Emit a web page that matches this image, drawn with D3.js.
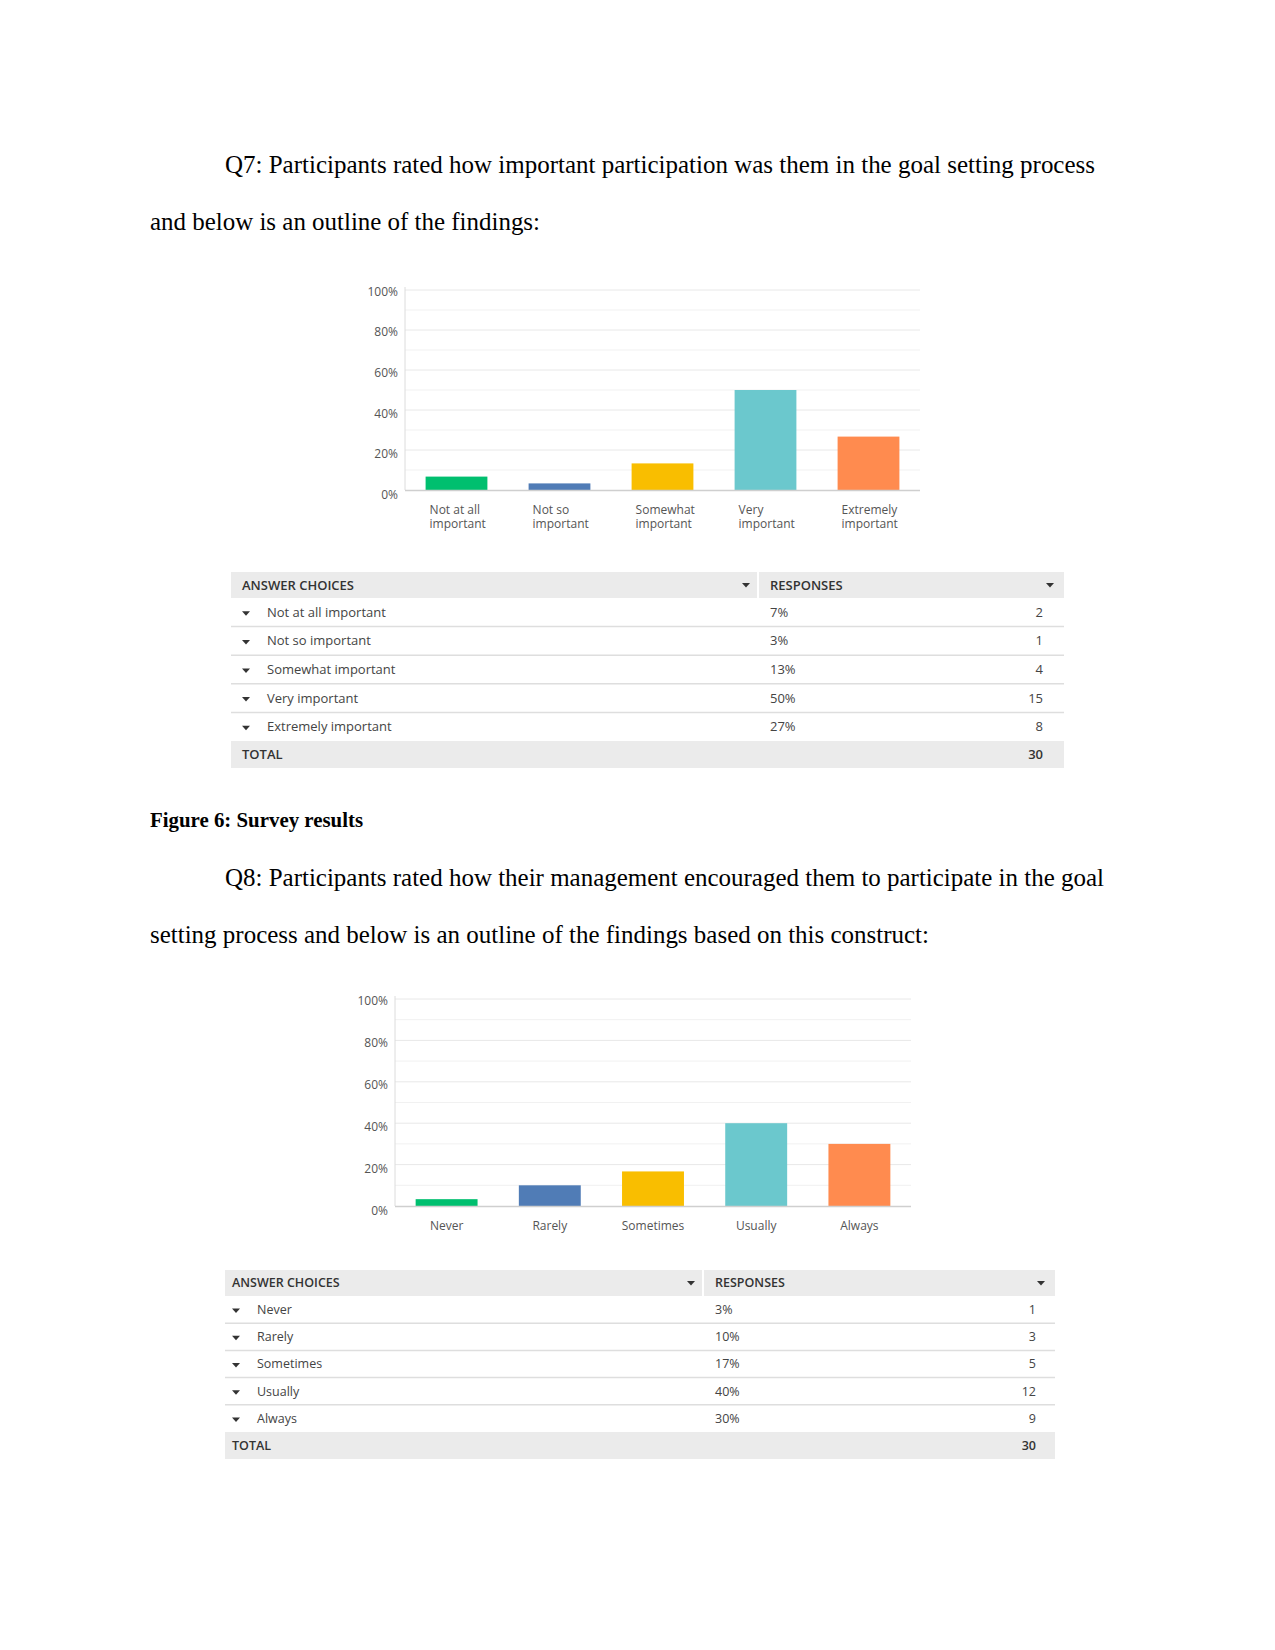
<!DOCTYPE html>
<html>
<head>
<meta charset="utf-8">
<script src="https://cdn.jsdelivr.net/npm/d3@7"></script>
<style>
  body { margin: 0; background: #fff; }
</style>
</head>
<body>
<div id="page"></div>
<script>
// --- data ---
var q7Choices = ["Not at all important", "Not so important", "Somewhat important", "Very important", "Extremely important"];
var q7AxisLabels = [["Not at all", "important"], ["Not so", "important"], ["Somewhat", "important"], ["Very", "important"], ["Extremely", "important"]];
var q7Percents = [7, 3, 13, 50, 27];          // as printed in the table
var q7BarHeights = [6.7, 3.3, 13.3, 50, 26.7]; // as measured off the bars
var q7Counts = [2, 1, 4, 15, 8];
var q7Total = 30;

var q8Choices = ["Never", "Rarely", "Sometimes", "Usually", "Always"];
var q8AxisLabels = [["Never"], ["Rarely"], ["Sometimes"], ["Usually"], ["Always"]];
var q8Percents = [3, 10, 17, 40, 30];
var q8BarHeights = [3.3, 10, 16.7, 40, 30];
var q8Counts = [1, 3, 5, 12, 9];
var q8Total = 30;

var barColors = ["#00bf6f", "#507cb6", "#f9be00", "#6bc8cd", "#ff8b4f"];
var yTicks = [0, 20, 40, 60, 80, 100];
var headerLabels = ["ANSWER CHOICES", "RESPONSES"];

var q7Text = ["Q7: Participants rated how important participation was them in the goal setting process",
              "and below is an outline of the findings:"];
var captionText = "Figure 6: Survey results";
var q8Text = ["Q8: Participants rated how their management encouraged them to participate in the goal",
              "setting process and below is an outline of the findings based on this construct:"];

var W = 1275, H = 1650;
var sans = "'Open Sans', 'Noto Sans', sans-serif";
var serif = "'Liberation Serif', 'Times New Roman', serif";

var svg = d3.select("#page")
	.append("svg")
	.attr("width", W)
	.attr("height", H)
	.style("background-color", "#fff");

// body text lines (widths stretched to the reference line lengths)
function bodyLine(txt, x, y, len, bold){
	svg.append("text")
		.attr("x", x)
		.attr("y", y)
		.attr("textLength", len)
		.attr("lengthAdjust", "spacingAndGlyphs")
		.style("font-family", serif)
		.style("font-size", bold ? "21px" : "25px")
		.style("font-weight", bold ? "bold" : "normal")
		.attr("fill", "#000")
		.text(txt);
}

bodyLine(q7Text[0], 225, 173, 870);
bodyLine(q7Text[1], 150, 230, 390);
bodyLine(captionText, 150, 827, 213, true);
bodyLine(q8Text[0], 225, 886, 879);
bodyLine(q8Text[1], 150, 943, 779);

function drawChart(opt){
	var g = svg.append("g");
	var x = d3.scaleBand()
		.domain(d3.range(opt.values.length))
		.range([opt.left, opt.right])
		.paddingInner(0.4)
		.paddingOuter(0.2);
	var y = d3.scaleLinear()
		.domain([0, 100])
		.range([opt.base, opt.top]);
	// tick labels sit a touch lower than their grid lines, more so near 0%
	var yLab = d3.scaleLinear()
		.domain([0, 100])
		.range([opt.base + 4, opt.top + 1]);

	// faint grid, one line every 10%
	g.selectAll("line.grid")
		.data(d3.range(10, 101, 10))
		.enter().append("line")
		.attr("class", "grid")
		.attr("x1", opt.left)
		.attr("x2", opt.right)
		.attr("y1", function(d){ return y(d); })
		.attr("y2", function(d){ return y(d); })
		.attr("stroke", function(d){ return d % 20 == 0 ? "#e8e8e8" : "#f1f1f1"; })
		.attr("stroke-width", 1);

	// y axis labels
	var ax = g.append("g")
		.attr("transform", "translate(" + (opt.left - 7) + ",0)")
		.call(d3.axisLeft(yLab).tickValues(yTicks).tickSize(0).tickPadding(0)
			.tickFormat(function(d){ return d + "%"; }));
	ax.select(".domain").remove();
	ax.selectAll("text")
		.attr("dy", "0.35em")
		.style("font-family", sans)
		.style("font-size", "12px")
		.attr("fill", "#555");

	// left axis line
	g.append("line")
		.attr("x1", opt.left).attr("x2", opt.left)
		.attr("y1", y(100) - 3).attr("y2", opt.base)
		.attr("stroke", "#dcdcdc");

	// bars
	g.selectAll("rect.bar")
		.data(opt.values)
		.enter().append("rect")
		.attr("class", "bar")
		.attr("x", function(d, i){ return x(i); })
		.attr("width", x.bandwidth())
		.attr("y", function(d){ return y(d); })
		.attr("height", function(d){ return opt.base - y(d); })
		.attr("fill", function(d, i){ return barColors[i]; });

	// baseline
	g.append("line")
		.attr("x1", opt.left).attr("x2", opt.right)
		.attr("y1", opt.base + 0.5).attr("y2", opt.base + 0.5)
		.attr("stroke", "#cfcfcf")
		.attr("stroke-width", 1.5);

	// category labels
	var lab = g.selectAll("text.cat")
		.data(opt.labels)
		.enter().append("text")
		.attr("class", "cat")
		.attr("x", function(d, i){ return opt.center ? x(i) + x.bandwidth() / 2 : x(i) + 4; })
		.attr("y", opt.base + 24)
		.attr("text-anchor", opt.center ? "middle" : "start")
		.style("font-family", sans)
		.style("font-size", "12px")
		.attr("fill", "#555");
	lab.selectAll("tspan")
		.data(function(d){ return d; })
		.enter().append("tspan")
		.attr("x", function(){ return d3.select(this.parentNode).attr("x"); })
		.attr("dy", function(d, i){ return i == 0 ? 0 : 14; })
		.text(function(d){ return d; });
}

function tri(g, cx, cy){
	g.append("path")
		.attr("d", "M" + (cx - 4) + "," + (cy - 2) + "L" + (cx + 4) + "," + (cy - 2) + "L" + cx + "," + (cy + 2.5) + "Z")
		.attr("fill", "#333");
}

function drawTable(opt){
	var g = svg.append("g");
	var fs = opt.fontSize + "px";
	var rows = d3.scaleLinear().domain([0, opt.choices.length]).range([opt.bodyTop, opt.totalTop]);

	// header
	g.append("rect")
		.attr("x", opt.left).attr("y", opt.headTop)
		.attr("width", opt.right - opt.left).attr("height", opt.bodyTop - opt.headTop)
		.attr("fill", "#ebebeb");
	g.append("line")
		.attr("x1", opt.split).attr("x2", opt.split)
		.attr("y1", opt.headTop).attr("y2", opt.bodyTop)
		.attr("stroke", "#fff").attr("stroke-width", 2);
	var hy = (opt.headTop + opt.bodyTop) / 2;
	g.selectAll("text.head")
		.data(headerLabels)
		.enter().append("text")
		.attr("class", "head")
		.attr("x", function(d, i){ return i == 0 ? opt.left + opt.pad : opt.split + 12; })
		.attr("y", hy)
		.attr("dy", "0.35em")
		.style("font-family", sans)
		.style("font-size", fs)
		.style("font-weight", 600)
		.attr("fill", "#333")
		.text(function(d){ return d; });
	tri(g, opt.split - 12, hy);
	tri(g, opt.right - 14, hy);

	// body rows
	g.selectAll("line.sep")
		.data(d3.range(1, opt.choices.length))
		.enter().append("line")
		.attr("class", "sep")
		.attr("x1", opt.left).attr("x2", opt.right)
		.attr("y1", function(d){ return rows(d); })
		.attr("y2", function(d){ return rows(d); })
		.attr("stroke", "#dedede").attr("stroke-width", 1.5);

	opt.choices.forEach(function(c, i){
		var cy = (rows(i) + rows(i + 1)) / 2;
		tri(g, opt.left + opt.pad + 4, cy + 1);
		g.append("text")
			.attr("x", opt.left + opt.pad + 25).attr("y", cy).attr("dy", "0.35em")
			.style("font-family", sans).style("font-size", fs)
			.attr("fill", "#444").text(c);
		g.append("text")
			.attr("x", opt.split + 12).attr("y", cy).attr("dy", "0.35em")
			.style("font-family", sans).style("font-size", fs)
			.attr("fill", "#444").text(opt.percents[i] + "%");
		g.append("text")
			.attr("x", opt.countX).attr("y", cy).attr("dy", "0.35em")
			.attr("text-anchor", "end")
			.style("font-family", sans).style("font-size", fs)
			.attr("fill", "#444").text(opt.counts[i]);
	});

	// total row
	g.append("rect")
		.attr("x", opt.left).attr("y", opt.totalTop)
		.attr("width", opt.right - opt.left).attr("height", opt.bottom - opt.totalTop)
		.attr("fill", "#ebebeb");
	var ty = (opt.totalTop + opt.bottom) / 2;
	g.append("text")
		.attr("x", opt.left + opt.pad).attr("y", ty).attr("dy", "0.35em")
		.style("font-family", sans).style("font-size", fs).style("font-weight", 600)
		.attr("fill", "#333").text("TOTAL");
	g.append("text")
		.attr("x", opt.countX).attr("y", ty).attr("dy", "0.35em")
		.attr("text-anchor", "end")
		.style("font-family", sans).style("font-size", fs).style("font-weight", 600)
		.attr("fill", "#333").text(opt.total);
}

drawChart({ values: q7BarHeights, labels: q7AxisLabels, left: 405, right: 920, top: 290, base: 490, center: false });
drawTable({ choices: q7Choices, percents: q7Percents, counts: q7Counts, total: q7Total,
	left: 231, right: 1064, split: 758, countX: 1043, pad: 11,
	headTop: 572, bodyTop: 598, totalTop: 741, bottom: 768, fontSize: 13 });

drawChart({ values: q8BarHeights, labels: q8AxisLabels, left: 395, right: 911, top: 999, base: 1206, center: true });
drawTable({ choices: q8Choices, percents: q8Percents, counts: q8Counts, total: q8Total,
	left: 225, right: 1055, split: 703, countX: 1036, pad: 7,
	headTop: 1270, bodyTop: 1296, totalTop: 1432, bottom: 1459, fontSize: 12.5 });
</script>
</body>
</html>
